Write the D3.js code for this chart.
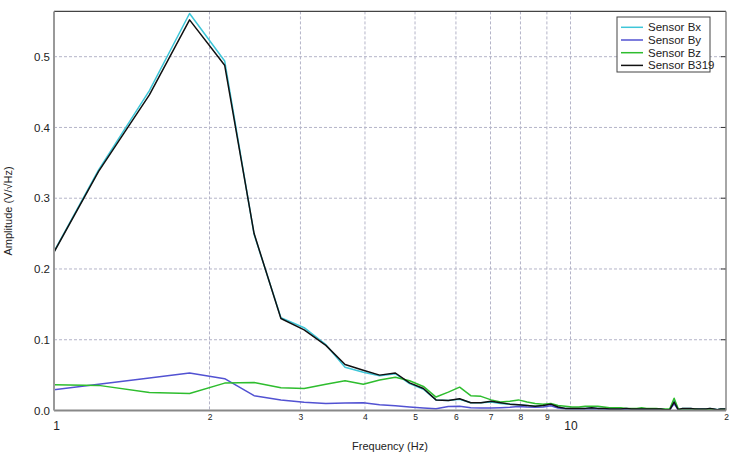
<!DOCTYPE html>
<html lang="en">
<head>
<meta charset="UTF-8">
<title>Sensor amplitude spectrum</title>
<script src="https://d3js.org/d3.v7.min.js"></script>
<style>
  body { margin: 0; background: #fff; }
  text { font-family: "Liberation Sans", Arial, sans-serif; fill: #222; }
</style>
</head>
<body>
<div id="chart"></div>
<script>
// frequency bins (Hz)
const freq = [0.92, 1.22, 1.53, 1.83, 2.14, 2.44, 2.75, 3.05, 3.36, 3.66, 3.97, 4.27, 4.58, 4.88,
  5.19, 5.49, 5.80, 6.10, 6.41, 6.71, 7.02, 7.32, 7.63, 7.93, 8.24, 8.54, 8.85, 9.16, 9.46, 9.77,
  10.07, 10.38, 10.68, 10.99, 11.29, 11.60, 11.90, 12.21, 12.51, 12.82, 13.12, 13.43, 13.73, 14.04,
  14.34, 14.65, 14.95, 15.26, 15.56, 15.87, 16.17, 16.48, 16.78, 17.09, 17.40, 17.70, 18.01, 18.31,
  18.62, 18.92, 19.23, 19.53, 19.84, 20.14];

const sensorBx = [0.176, 0.340, 0.452, 0.561, 0.494, 0.249, 0.131, 0.117, 0.093, 0.061, 0.054, 0.049, 0.052, 0.038,
  0.030, 0.015, 0.014, 0.016, 0.011, 0.011, 0.012, 0.010, 0.009, 0.008, 0.007, 0.006, 0.007, 0.009, 0.005, 0.003,
  0.003, 0.003, 0.003, 0.004, 0.003, 0.003, 0.002, 0.002, 0.002, 0.003, 0.002, 0.002, 0.002, 0.002,
  0.002, 0.002, 0.002, 0.001, 0.001, 0.015, 0.001, 0.003, 0.003, 0.003, 0.002, 0.002, 0.002, 0.002,
  0.003, 0.002, 0.001, 0.002, 0.002, 0.002];

const sensorBy = [0.026, 0.037, 0.046, 0.053, 0.045, 0.021, 0.015, 0.0115, 0.010, 0.0105, 0.011, 0.008, 0.0066, 0.005,
  0.0035, 0.0025, 0.0057, 0.006, 0.004, 0.0035, 0.0035, 0.004, 0.0045, 0.0057, 0.005, 0.0047, 0.005, 0.0066, 0.0035, 0.0025,
  0.002, 0.002, 0.002, 0.002, 0.002, 0.002, 0.0015, 0.0015, 0.0015, 0.0015, 0.0015, 0.0015, 0.0015, 0.0015,
  0.0015, 0.0015, 0.0015, 0.001, 0.001, 0.0095, 0.001, 0.0015, 0.0015, 0.0015, 0.0015, 0.0015, 0.0015, 0.0015,
  0.0015, 0.0015, 0.001, 0.0015, 0.0015, 0.0015];

const sensorBz = [0.037, 0.0355, 0.0255, 0.024, 0.0387, 0.0396, 0.032, 0.031, 0.037, 0.042, 0.037, 0.043, 0.047, 0.042,
  0.034, 0.019, 0.026, 0.033, 0.021, 0.020, 0.015, 0.012, 0.013, 0.015, 0.012, 0.010, 0.009, 0.010, 0.007, 0.006,
  0.005, 0.005, 0.006, 0.006, 0.006, 0.005, 0.004, 0.004, 0.004, 0.003, 0.003, 0.003, 0.004, 0.003,
  0.003, 0.003, 0.002, 0.002, 0.002, 0.0174, 0.002, 0.002, 0.002, 0.002, 0.002, 0.001, 0.0015, 0.0015,
  0.002, 0.0015, 0.001, 0.0015, 0.0015, 0.0015];

const sensorB319 = [0.176, 0.338, 0.446, 0.552, 0.488, 0.250, 0.130, 0.114, 0.092, 0.065, 0.057, 0.050, 0.053, 0.039,
  0.031, 0.015, 0.014, 0.0165, 0.011, 0.011, 0.013, 0.011, 0.009, 0.008, 0.007, 0.006, 0.007, 0.009, 0.005, 0.003,
  0.003, 0.003, 0.003, 0.004, 0.003, 0.003, 0.002, 0.002, 0.002, 0.003, 0.002, 0.002, 0.002, 0.002,
  0.002, 0.002, 0.002, 0.001, 0.001, 0.012, 0.001, 0.003, 0.003, 0.003, 0.002, 0.002, 0.002, 0.002,
  0.003, 0.002, 0.001, 0.002, 0.002, 0.002];

const seriesNames = ["Sensor Bx", "Sensor By", "Sensor Bz", "Sensor B319"];
const seriesColors = ["#3ec6d8", "#5252d2", "#2ebd2e", "#111111"];
const seriesValues = [sensorBx, sensorBy, sensorBz, sensorB319];

const xTickValues = [1, 2, 3, 4, 5, 6, 7, 8, 9, 10, 20];
const xTickLabels = ["1", "2", "3", "4", "5", "6", "7", "8", "9", "10", "2"];
const xMajor = [1, 10];
const xGrid = [2, 3, 4, 5, 6, 7, 8, 9, 10];
const yTickValues = [0, 0.1, 0.2, 0.3, 0.4, 0.5];

const width = 750, height = 452;
const margin = { top: 11.4, right: 24, bottom: 41.5, left: 54 };
const innerW = width - margin.left - margin.right;
const innerH = height - margin.top - margin.bottom;

const svg = d3.select("#chart").append("svg")
  .attr("width", width)
  .attr("height", height);

const x = d3.scaleLog().domain([1, 20]).range([0, innerW]);
const y = d3.scaleLinear().domain([0, 0.564]).range([innerH, 0]);

const g = svg.append("g").attr("transform", `translate(${margin.left},${margin.top})`);

// clip so the lines stop at the frame
g.append("clipPath").attr("id", "plotClip")
  .append("rect").attr("width", innerW).attr("height", innerH);

// grid
g.append("g").selectAll("line").data(xGrid).join("line")
  .attr("x1", d => x(d)).attr("x2", d => x(d))
  .attr("y1", 0).attr("y2", innerH)
  .attr("stroke", "#b4b4c8").attr("stroke-dasharray", "3,2").attr("stroke-width", 1);

g.append("g").selectAll("line").data(yTickValues.filter(d => d > 0)).join("line")
  .attr("x1", 0).attr("x2", innerW)
  .attr("y1", d => y(d)).attr("y2", d => y(d))
  .attr("stroke", "#b4b4c8").attr("stroke-dasharray", "3,2").attr("stroke-width", 1);

// right-side inner ticks
g.append("g").selectAll("line").data(yTickValues.filter(d => d > 0)).join("line")
  .attr("x1", innerW - 5).attr("x2", innerW)
  .attr("y1", d => y(d)).attr("y2", d => y(d))
  .attr("stroke", "#333").attr("stroke-width", 1);

// lines
const line = d3.line()
  .x((d, i) => x(freq[i]))
  .y(d => y(d));

g.append("g").attr("clip-path", "url(#plotClip)")
  .selectAll("path").data(seriesValues).join("path")
  .attr("d", d => line(d))
  .attr("fill", "none")
  .attr("stroke", (d, i) => seriesColors[i])
  .attr("stroke-width", 1.5)
  .attr("stroke-linejoin", "round");

// frame
g.append("line").attr("x1", 0).attr("x2", innerW).attr("y1", 0).attr("y2", 0)
  .attr("stroke", "#444").attr("stroke-width", 1.2);
g.append("line").attr("x1", innerW).attr("x2", innerW).attr("y1", 0).attr("y2", innerH)
  .attr("stroke", "#888").attr("stroke-width", 1.5);
g.append("line").attr("x1", 0).attr("x2", innerW).attr("y1", innerH).attr("y2", innerH)
  .attr("stroke", "#888").attr("stroke-width", 2);
g.append("line").attr("x1", 0).attr("x2", 0).attr("y1", 0).attr("y2", innerH)
  .attr("stroke", "#999").attr("stroke-width", 2);

// y axis
const yAxis = g.append("g")
  .call(d3.axisLeft(y).tickValues(yTickValues).tickFormat(d3.format(".1f")).tickSize(0).tickPadding(4));
yAxis.select(".domain").remove();
yAxis.selectAll("text").style("font-size", "11.5px").style("fill", "#222")
  .style("font-family", "'Liberation Sans', Arial, sans-serif");

// x axis
const xAxis = g.append("g").attr("transform", `translate(0,${innerH})`)
  .call(d3.axisBottom(x).tickValues(xTickValues)
    .tickFormat((d, i) => xTickLabels[i]).tickSize(0));
xAxis.select(".domain").remove();
xAxis.selectAll("text")
  .style("font-family", "'Liberation Sans', Arial, sans-serif")
  .style("fill", "#222")
  .style("font-size", d => xMajor.includes(d) ? "12px" : "8.5px")
  .attr("y", d => xMajor.includes(d) ? 11 : 3)
  .attr("dx", d => d === 1 ? 2 : 0);

// axis titles
svg.append("text")
  .attr("x", margin.left + innerW / 2)
  .attr("y", 450)
  .attr("text-anchor", "middle")
  .style("font-size", "11px")
  .text("Frequency (Hz)");

svg.append("text")
  .attr("transform", `translate(12,${margin.top + innerH / 2}) rotate(-90)`)
  .attr("text-anchor", "middle")
  .style("font-size", "11px")
  .text("Amplitude (V/\u221AHz)");

// legend
const legend = svg.append("g").attr("transform", "translate(617,17)");
legend.append("rect")
  .attr("width", 93).attr("height", 55)
  .attr("fill", "#fff").attr("stroke", "#444").attr("stroke-width", 1);
const item = legend.selectAll("g").data(seriesNames).join("g")
  .attr("transform", (d, i) => `translate(0,${10.3 + i * 12.7})`);
item.append("line")
  .attr("x1", 4).attr("x2", 26)
  .attr("stroke", (d, i) => seriesColors[i]).attr("stroke-width", 1.5);
item.append("text")
  .attr("x", 31).attr("dy", "0.35em")
  .style("font-size", "11.5px")
  .text(d => d);
</script>
</body>
</html>
